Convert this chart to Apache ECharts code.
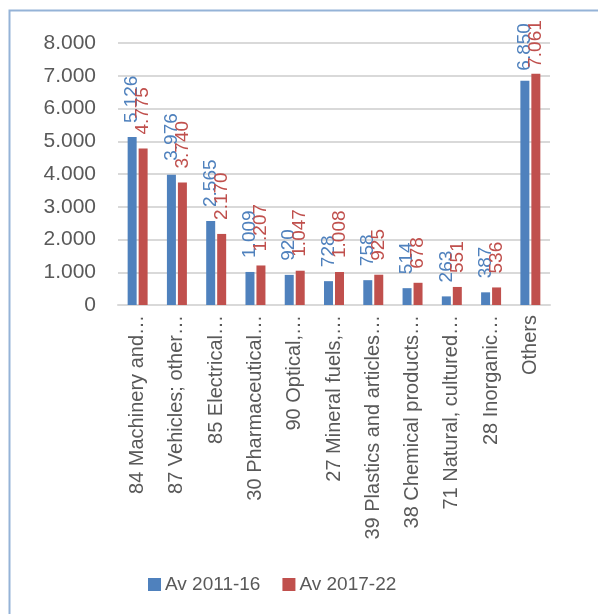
<!DOCTYPE html>
<html>
<head>
<meta charset="utf-8">
<script src="https://cdn.jsdelivr.net/npm/echarts@6/dist/echarts.min.js"></script>
<style>
  html, body { margin: 0; padding: 0; background: #fff; }
  #chart { width: 598px; height: 614px; }
</style>
</head>
<body>
<div id="chart"></div>
<script>
// Product groups (labels shown shortened, as on the axis)
const categories = [
  '84 Machinery and…',
  '87 Vehicles; other…',
  '85 Electrical…',
  '30 Pharmaceutical…',
  '90 Optical,…',
  '27 Mineral fuels,…',
  '39 Plastics and articles…',
  '38 Chemical products…',
  '71 Natural, cultured…',
  '28 Inorganic…',
  'Others'
];

const seriesNames = ['Av 2011-16', 'Av 2017-22'];
const avg2011_16 = [5126, 3976, 2565, 1009, 920, 728, 758, 514, 263, 387, 6850];
const avg2017_22 = [4775, 3740, 2170, 1207, 1047, 1008, 925, 678, 551, 536, 7061];

const yMin = 0;
const yMax = 8000;
const yStep = 1000;

const BLUE = '#4F81BD';
const RED = '#C0504D';
const TEXT = '#595959';
const FONT = '"Liberation Sans", Arial, sans-serif';

// Thousands separator written with a dot
function fmt(v) {
  return String(Math.round(v)).replace(/\B(?=(\d{3})+(?!\d))/g, '.');
}

// The tallest pair keeps its labels a little closer to the bars so they stay inside the frame
function withLabelDistance(values, lastDistance) {
  return values.map((v, i) =>
    i === values.length - 1 ? { value: v, label: { distance: lastDistance } } : v
  );
}

function barSeries(name, data, color, lastDistance) {
  return {
    name: name,
    type: 'bar',
    data: withLabelDistance(data, lastDistance),
    barWidth: 9,
    barGap: '22%',
    itemStyle: { color: color },
    label: {
      show: true,
      position: 'top',
      rotate: 90,
      align: 'left',
      verticalAlign: 'middle',
      distance: 14,
      color: color,
      fontFamily: FONT,
      fontSize: 19,
      formatter: p => fmt(p.value)
    }
  };
}

const chart = echarts.init(document.getElementById('chart'), null, { renderer: 'canvas' });

chart.setOption({
  animation: false,
  backgroundColor: '#ffffff',
  textStyle: { fontFamily: FONT },
  graphic: [{
    type: 'rect',
    shape: { x: 9.5, y: 10.5, width: 620, height: 640 },
    style: { fill: 'none', stroke: '#95B3D7', lineWidth: 2 },
    silent: true,
    z: -1
  }],
  grid: { left: 118, right: 48, top: 43, bottom: 309, containLabel: false },
  legend: {
    left: 143,
    top: 570,
    itemWidth: 13,
    itemHeight: 13,
    itemGap: 22,
    icon: 'rect',
    textStyle: { color: TEXT, fontSize: 19, fontFamily: FONT, padding: [0, 0, 0, -1] },
    data: seriesNames
  },
  xAxis: {
    type: 'category',
    data: categories,
    axisLine: { show: true, lineStyle: { color: '#D9D9D9', width: 2 } },
    axisTick: { show: false },
    axisLabel: {
      interval: 0,
      rotate: 90,
      margin: 10,
      color: TEXT,
      fontSize: 20,
      fontFamily: FONT
    }
  },
  yAxis: {
    type: 'value',
    min: yMin,
    max: yMax,
    interval: yStep,
    axisLine: { show: false },
    axisTick: { show: false },
    splitLine: { lineStyle: { color: '#D9D9D9', width: 2 } },
    axisLabel: {
      margin: 22,
      color: TEXT,
      fontSize: 21,
      fontFamily: FONT,
      formatter: v => fmt(v)
    }
  },
  series: [
    barSeries(seriesNames[0], avg2011_16, BLUE, 10),
    barSeries(seriesNames[1], avg2017_22, RED, 6)
  ]
});
</script>
</body>
</html>
